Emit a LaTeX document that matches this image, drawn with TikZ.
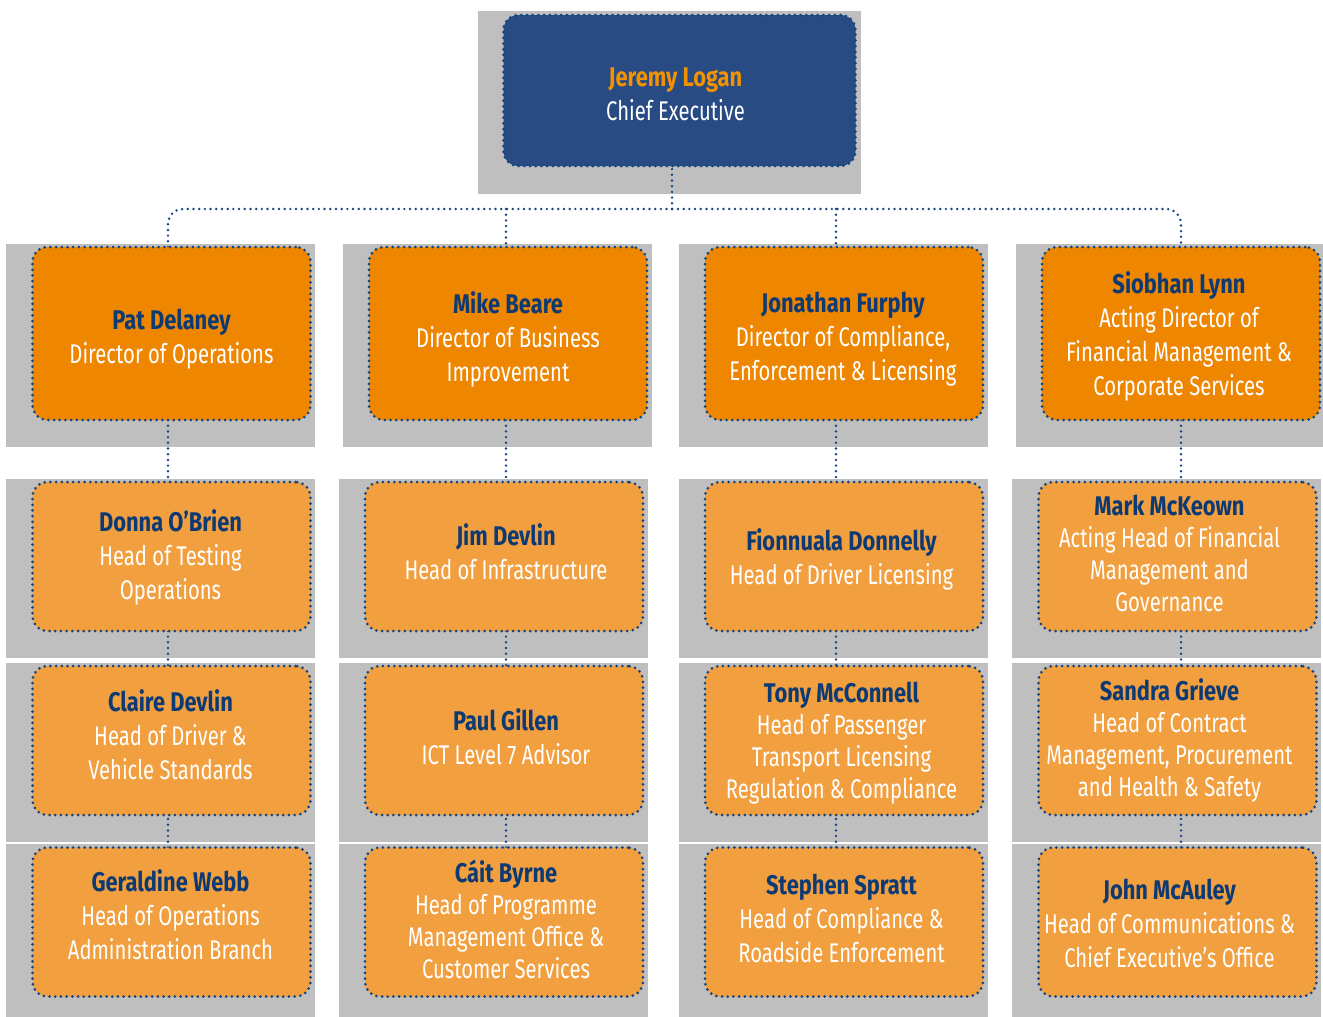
\documentclass[tikz,border=0pt]{standalone}
\usepackage{fontspec}
\setmainfont[FakeStretch=0.75]{Fira Sans}
\newfontfamily\namefont[FakeStretch=0.81]{Fira Sans}
\usetikzlibrary{calc}
\definecolor{bggray}{HTML}{BFBFBF}
\definecolor{ceoblue}{HTML}{274B82}
\definecolor{dirorange}{HTML}{EE8600}
\definecolor{headorange}{HTML}{F29F3F}
\definecolor{dotblue}{HTML}{15457F}
\definecolor{nameblue}{HTML}{0E3A73}
\definecolor{ceoname}{HTML}{F39200}
\newcommand{\nm}[1]{{\namefont\bfseries\color{nameblue}#1}}
\tikzset{
  dotline/.style={draw=dotblue, line width=3pt, line cap=round, dash pattern=on 0pt off 5.7pt},
  card/.style={dotline, rounded corners=15pt, inner sep=0pt},
  ceocard/.style={card, fill=ceoblue, minimum width=352pt, minimum height=151pt},
  dircard/.style={card, fill=dirorange, minimum width=278pt, minimum height=173pt},
  headcard/.style={card, fill=headorange, minimum width=278pt, minimum height=149pt},
  txt/.style={inner sep=0pt, align=center, text=white, font=\fontsize{27}{34}\selectfont},
  tight/.style={font=\fontsize{27}{32}\selectfont},
  conn/.style={dotline, line width=2.7pt},
}
\begin{document}
\begin{tikzpicture}[x=1pt,y=-1pt]
\useasboundingbox (0,0) rectangle (1323,1017);
% gray backgrounds
\fill[bggray] (478,11) rectangle (861,194);
\foreach \xa/\xb in {6/315,343/652,679/988,1016/1323}{\fill[bggray] (\xa,244) rectangle (\xb,447);}
\foreach \xa/\xb in {6/315,339/648,679/988,1012/1321}{
  \fill[bggray] (\xa,479) rectangle (\xb,658);
  \fill[bggray] (\xa,663) rectangle (\xb,842);
  \fill[bggray] (\xa,844) rectangle (\xb,1017);}
\coordinate (bus) at (672,209);
% connectors (under the cards)
\draw[conn] (bus) -- (672,166);
\draw[conn, rounded corners=15pt] (168,247) |- (bus) -| (1181,247);
\draw[conn] (506,209) -- (506,247);
\draw[conn] (836,209) -- (836,247);
\foreach \x in {168,506,836,1181}{\draw[conn] (\x,420) -- (\x,996);}
% CEO
\node[ceocard] (ceo) at (679.5,90.5) {};
\node[txt] (ceot) at ($(ceo.center)+(-4,3.5)$) {{\namefont\bfseries\color{ceoname}Jeremy Logan}\\Chief Executive};
% directors
\node[dircard] (d1) at (171.5,333.5) {};
\node[txt] (d1t) at ($(d1.center)+(0,6)$) {\nm{Pat Delaney}\\Director of Operations};
\node[dircard] (d2) at (508,333.5) {};
\node[txt] (d2t) at ($(d2.center)+(0,6)$) {\nm{Mike Beare}\\Director of Business\\Improvement};
\node[dircard] (d3) at (844,333.5) {};
\node[txt] (d3t) at ($(d3.center)+(-1,5.5)$) {\nm{Jonathan Furphy}\\Director of Compliance,\\Enforcement \& Licensing};
\node[dircard] (d4) at (1181,333.5) {};
\node[txt] (d4t) at ($(d4.center)+(-2,2.5)$) {\nm{Siobhan Lynn}\\Acting Director of\\Financial Management \&\\Corporate Services};
% row 2
\node[headcard] (a2) at (171.5,556.5) {};
\node[txt] (a2t) at ($(a2.center)+(-1,1)$) {\nm{Donna O’Brien}\\Head of Testing\\Operations};
\node[headcard] (b2) at (504,556.5) {};
\node[txt] (b2t) at ($(b2.center)+(2,-5)$) {\nm{Jim Devlin}\\Head of Infrastructure};
\node[headcard] (c2) at (844,556.5) {};
\node[txt] (c2t) at ($(c2.center)+(-2.5,2.5)$) {\nm{Fionnuala Donnelly}\\Head of Driver Licensing};
\node[headcard] (e2) at (1177.5,556.5) {};
\node[txt,tight] (e2t) at ($(e2.center)+(-8,-3)$) {\nm{Mark McKeown}\\Acting Head of Financial\\Management and\\Governance};
% row 3
\node[headcard] (a3) at (171.5,740.5) {};
\node[txt] (a3t) at ($(a3.center)+(-1,-5.5)$) {\nm{Claire Devlin}\\Head of Driver \&\\Vehicle Standards};
\node[headcard] (b3) at (504,740.5) {};
\node[txt] (b3t) at ($(b3.center)+(2,-3.5)$) {\nm{Paul Gillen}\\ICT Level 7 Advisor};
\node[headcard] (c3) at (844,740.5) {};
\node[txt,tight] (c3t) at ($(c3.center)+(-2.5,2.5)$) {\nm{Tony McConnell}\\Head of Passenger\\Transport Licensing\\Regulation \& Compliance};
\node[headcard] (e3) at (1177.5,740.5) {};
\node[txt,tight] (e3t) at ($(e3.center)+(-8,0)$) {\nm{Sandra Grieve}\\Head of Contract\\Management, Procurement\\and Health \& Safety};
% row 4
\node[headcard] (a4) at (171.5,922) {};
\node[txt] (a4t) at ($(a4.center)+(-1,-7.5)$) {\nm{Geraldine Webb}\\Head of Operations\\Administration Branch};
\node[headcard] (b4) at (504,922) {};
\node[txt,tight] (b4t) at ($(b4.center)+(2,-3)$) {\nm{Cáit Byrne}\\Head of Programme\\Management Office \&\\Customer Services};
\node[headcard] (c4) at (844,922) {};
\node[txt] (c4t) at ($(c4.center)+(-2.5,-4)$) {\nm{Stephen Spratt}\\Head of Compliance \&\\Roadside Enforcement};
\node[headcard] (e4) at (1177.5,922) {};
\node[txt] (e4t) at ($(e4.center)+(-8,1)$) {\nm{John McAuley}\\Head of Communications \&\\Chief Executive’s Office};
\end{tikzpicture}
\end{document}
